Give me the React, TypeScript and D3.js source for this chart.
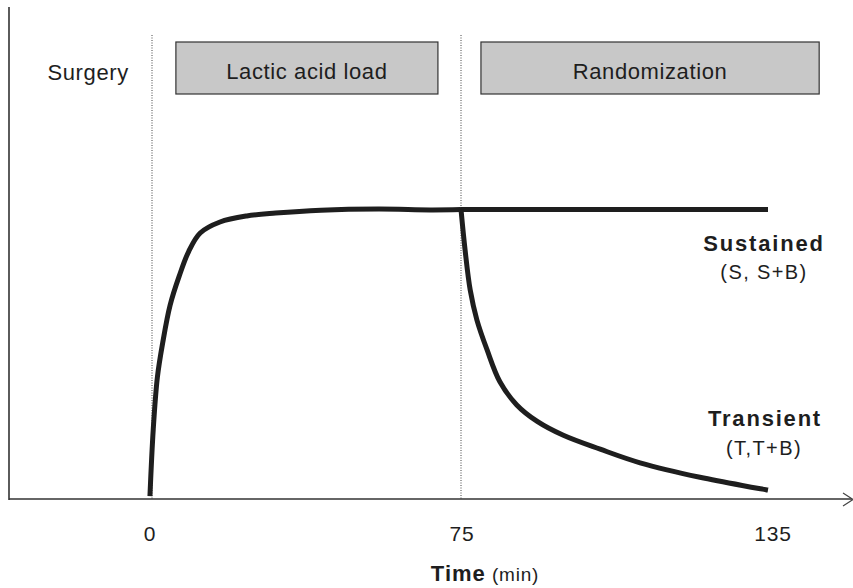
import React from "react";
import * as d3 from "d3";

// ---- data ----
const tickTimes = [0, 75, 135];
const tickLabels = ["0", "75", "135"];

const phaseLabels = ["Lactic acid load", "Randomization"];
const phaseStart = [5.8, 78.9];
const phaseEnd = [69.4, 145];

const markerTimes = [0, 75]; // dotted vertical lines

const riseTime = [-0.5, 0.3, 1.3, 2.6, 4.4, 6.6, 8.9, 11.7, 16.5, 23, 30, 41, 55, 67.5, 75];
const riseValue = [0.1, 2.4, 4.2, 5.4, 6.7, 7.7, 8.55, 9.19, 9.57, 9.78, 9.88, 9.98, 10.02, 9.99, 10.0];

const sustainedTime = [75, 135];
const sustainedValue = [10, 10];

const transientTime = [75, 75.8, 76.8, 78.1, 80.1, 82.6, 85.9, 89.9, 95, 102.2, 110, 121.7, 135];
const transientValue = [10, 8.6, 7.22, 6.19, 5.15, 4.05, 3.25, 2.68, 2.2, 1.72, 1.25, 0.75, 0.31];

const W = 853;
const H = 588;
const FONT = "'Liberation Sans', Arial, sans-serif";
const INK = "#1e1e1e";

export default function App() {
  const x = d3.scaleLinear().domain([0, 75, 135]).range([152, 461, 768]);
  const y = d3.scaleLinear().domain([0, 17]).range([499, 7]);

  const line = d3
    .line<[number, number]>()
    .x((d) => x(d[0]))
    .y((d) => y(d[1]))
    .curve(d3.curveCatmullRom.alpha(0.5));

  const zip = (a: number[], b: number[]) => a.map((v, i) => [v, b[i]] as [number, number]);

  const axisY = y(0);
  const axisLeft = 9;
  const axisRight = 852;

  return (
    <svg
      width={W}
      height={H}
      style={{ position: "absolute", left: 0, top: 0, background: "#fff" }}
      fontFamily={FONT}
    >
      {/* dotted markers */}
      {markerTimes.map((t, i) => (
        <line
          key={"m" + i}
          x1={x(t)}
          x2={x(t)}
          y1={35}
          y2={axisY}
          stroke="#444"
          strokeWidth={1}
          strokeDasharray="1,1.5"
        />
      ))}

      {/* phase boxes */}
      {phaseLabels.map((lab, i) => {
        const x0 = x(phaseStart[i]);
        const x1 = x(phaseEnd[i]);
        return (
          <g key={"p" + i}>
            <rect x={x0} y={42} width={x1 - x0} height={52} fill="#c8c8c8" stroke="#333" strokeWidth={1.2} />
            <text
              x={(x0 + x1) / 2}
              y={79}
              textAnchor="middle"
              fontSize={22}
              letterSpacing={0.6}
              fill={INK}
            >
              {lab}
            </text>
          </g>
        );
      })}

      <text x={x(-15.5)} y={80} textAnchor="middle" fontSize={22} letterSpacing={0.6} fill={INK}>
        Surgery
      </text>

      {/* axes */}
      <line x1={axisLeft} x2={axisLeft} y1={7} y2={axisY + 1} stroke="#333" strokeWidth={1.6} />
      <line x1={axisLeft} x2={axisRight} y1={axisY} y2={axisY} stroke="#333" strokeWidth={1.6} />
      <polyline
        points={`${843},${493} ${853},${499.5} ${843},${506}`}
        fill="none"
        stroke="#444"
        strokeWidth={1.2}
      />

      {/* curves */}
      <path d={line(zip(riseTime, riseValue)) || ""} fill="none" stroke={INK} strokeWidth={5} strokeLinecap="butt" />
      <path d={line(zip(sustainedTime, sustainedValue)) || ""} fill="none" stroke={INK} strokeWidth={5} />
      <path d={line(zip(transientTime, transientValue)) || ""} fill="none" stroke={INK} strokeWidth={5} />

      {/* ticks */}
      {tickTimes.map((t, i) => (
        <text
          key={"t" + i}
          x={x(t) + (i === 0 ? -2 : i === 2 ? 5 : 1)}
          y={541}
          textAnchor="middle"
          fontSize={21}
          letterSpacing={0.8}
          fill={INK}
        >
          {tickLabels[i]}
        </text>
      ))}

      {/* axis title */}
      <text x={485} y={581} textAnchor="middle" fill={INK}>
        <tspan fontSize={22} fontWeight="bold" letterSpacing={1}>
          Time
        </tspan>
        <tspan fontSize={19} letterSpacing={0.8}> (min)</tspan>
      </text>

      {/* series labels */}
      <text x={764} y={251} textAnchor="middle" fontSize={22} fontWeight="bold" letterSpacing={1.8} fill={INK}>
        Sustained
      </text>
      <text x={764} y={279} textAnchor="middle" fontSize={20} letterSpacing={1.4} fill={INK}>
        (S, S+B)
      </text>
      <text x={765} y={426} textAnchor="middle" fontSize={22} fontWeight="bold" letterSpacing={1.8} fill={INK}>
        Transient
      </text>
      <text x={764} y={455} textAnchor="middle" fontSize={20} letterSpacing={1.4} fill={INK}>
        (T,T+B)
      </text>
    </svg>
  );
}
